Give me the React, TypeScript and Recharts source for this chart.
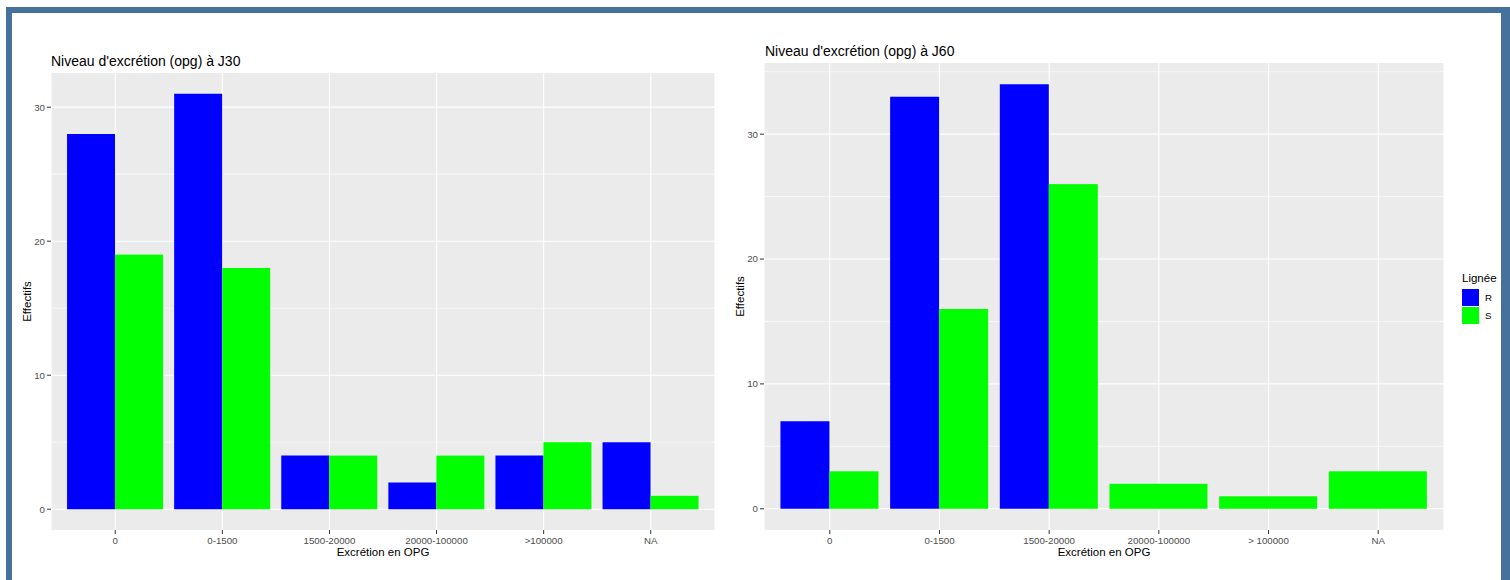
import React from 'react';
import { BarChart, Bar, XAxis, YAxis, CartesianGrid, Label } from 'recharts';

// ---- Data ----
const categoriesJ30 = ['0', '0-1500', '1500-20000', '20000-100000', '>100000', 'NA'];
const rJ30: (number | null)[] = [28, 31, 4, 2, 4, 5];
const sJ30: (number | null)[] = [19, 18, 4, 4, 5, 1];

const categoriesJ60 = ['0', '0-1500', '1500-20000', '20000-100000', '> 100000', 'NA'];
const rJ60: (number | null)[] = [7, 33, 34, null, null, null];
const sJ60: (number | null)[] = [3, 16, 26, 2, 1, 3];

const yTicks = [0, 10, 20, 30];
const minorJ30 = [5, 15, 25];
const minorJ60 = [5, 15, 25, 35];

const seriesNames = ['R', 'S'];
const seriesColors = ['#0000FF', '#00FF00'];

const titleJ30 = "Niveau d'excrétion (opg) à J30";
const titleJ60 = "Niveau d'excrétion (opg) à J60";
const xTitle = 'Excrétion en OPG';
const yTitle = 'Effectifs';
const legendTitle = 'Lignée';

const FONT = '"Liberation Sans", Arial, sans-serif';

function buildRows(cats: string[], r: (number | null)[], s: (number | null)[]) {
  return cats.map((c, i) => ({ cat: c, R: r[i], S: s[i] }));
}

// When R is missing, ggplot's dodge lets S fill the full width
const SBarShape = (props: any) => {
  const { x, y, width, height, fill, payload } = props;
  if (width == null || height == null) return null;
  const full = payload && (payload.R === null || payload.R === undefined);
  return (
    <rect
      x={full ? x - width : x}
      y={y}
      width={full ? width * 2 : width}
      height={height}
      fill={fill}
    />
  );
};

interface PanelProps {
  left: number;
  width: number;
  top: number;
  plotRight: number;
  yAxisWidth: number;
  cats: string[];
  r: (number | null)[];
  s: (number | null)[];
  minor: number[];
}

function Panel({ left, width, top, plotRight, yAxisWidth, cats, r, s, minor }: PanelProps) {
  const data = buildRows(cats, r, s);
  const maxVal = Math.max(...(r.filter((v) => v != null) as number[]), ...(s.filter((v) => v != null) as number[]));
  const ext = maxVal * 0.05;
  const plotWidth = width - yAxisWidth - plotRight;
  const band = plotWidth / (cats.length + 0.2);
  const pad = band * 0.1;
  return (
    <div style={{ position: 'absolute', left, top: 0 }}>
      <BarChart
        width={width}
        height={580}
        data={data}
        margin={{ top, right: plotRight, bottom: 20, left: 0 }}
        barGap={0}
        barCategoryGap="5%"
      >
        <CartesianGrid
          fill="#EBEBEB"
          stroke="#FFFFFF"
          strokeWidth={1.1}
          horizontalValues={yTicks}
        />
        <CartesianGrid
          stroke="#FFFFFF"
          strokeWidth={0.6}
          vertical={false}
          horizontalValues={minor}
        />
        <XAxis
          dataKey="cat"
          type="category"
          interval={0}
          height={30}
          padding={{ left: pad, right: pad }}
          axisLine={false}
          tickLine={{ stroke: '#333333' }}
          tickSize={4}
          tickMargin={3}
          tick={{ fontSize: 9.7, fill: '#4D4D4D' }}
        >
          <Label value={xTitle} position="insideBottom" offset={4} fontSize={11.5} fill="#000000" />
        </XAxis>
        <YAxis
          type="number"
          domain={[-ext, maxVal + ext]}
          ticks={yTicks}
          allowDataOverflow
          width={yAxisWidth}
          axisLine={false}
          tickLine={{ stroke: '#333333' }}
          tickSize={4}
          tickMargin={2}
          tick={{ fontSize: 9.7, fill: '#4D4D4D' }}
        >
          <Label
            value={yTitle}
            angle={-90}
            position="insideLeft"
            offset={yAxisWidth === 51 ? 27 : 40}
            fontSize={11.5}
            fill="#000000"
            style={{ textAnchor: 'middle' }}
          />
        </YAxis>
        <Bar dataKey={seriesNames[0]} fill={seriesColors[0]} isAnimationActive={false} />
        <Bar dataKey={seriesNames[1]} fill={seriesColors[1]} isAnimationActive={false} shape={SBarShape} />
      </BarChart>
    </div>
  );
}

export default function App() {
  return (
    <div
      style={{
        position: 'fixed',
        left: 0,
        top: 0,
        width: 1510,
        height: 580,
        overflow: 'hidden',
        background: '#FFFFFF',
        fontFamily: FONT,
      }}
    >
      <div
        style={{
          position: 'absolute',
          left: 6,
          top: 7,
          width: 1505,
          height: 620,
          boxSizing: 'border-box',
          borderStyle: 'solid',
          borderColor: '#45719C',
          borderWidth: '6px 10px 6px 6px',
        }}
      />
      <Panel left={0} width={740} top={73} plotRight={25} yAxisWidth={51} cats={categoriesJ30} r={rJ30} s={sJ30} minor={minorJ30} />
      <Panel left={700} width={760} top={63} plotRight={16} yAxisWidth={64} cats={categoriesJ60} r={rJ60} s={sJ60} minor={minorJ60} />
      <div style={{ position: 'absolute', left: 51, top: 54, fontSize: 14, lineHeight: '14px', color: '#000', whiteSpace: 'nowrap' }}>
        {titleJ30}
      </div>
      <div style={{ position: 'absolute', left: 765, top: 44, fontSize: 14, lineHeight: '14px', color: '#000', whiteSpace: 'nowrap' }}>
        {titleJ60}
      </div>
      <div style={{ position: 'absolute', left: 1462, top: 272, fontSize: 11.5, lineHeight: '12px', color: '#000', whiteSpace: 'nowrap' }}>
        {legendTitle}
      </div>
      {seriesNames.map((name, i) => (
        <React.Fragment key={name}>
          <div
            style={{
              position: 'absolute',
              left: 1462,
              top: 289 + i * 18,
              width: 17,
              height: 16.5,
              background: seriesColors[i],
            }}
          />
          <div
            style={{
              position: 'absolute',
              left: 1485,
              top: 292 + i * 18,
              fontSize: 9.7,
              lineHeight: '11px',
              color: '#000',
            }}
          >
            {name}
          </div>
        </React.Fragment>
      ))}
    </div>
  );
}
